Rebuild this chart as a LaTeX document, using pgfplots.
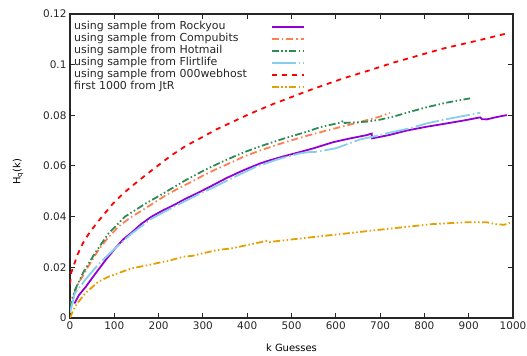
\documentclass[border=0pt]{standalone}
\usepackage{pgfplots}
\pgfplotsset{compat=1.18}
\usepackage{fontspec}
\setmainfont{DejaVu Sans}
\definecolor{cRock}{HTML}{9400D3}
\definecolor{cComp}{HTML}{FF7F50}
\definecolor{cHot}{HTML}{2E8B57}
\definecolor{cFlirt}{HTML}{87CEEB}
\definecolor{cWeb}{HTML}{FF0000}
\definecolor{cJtR}{HTML}{E69F00}
\begin{document}
\begin{tikzpicture}[x=1bp,y=1bp]
\begin{axis}[
  name=ax,
  scale only axis,
  width=443bp, height=304bp,
  xmin=0, xmax=1000, ymin=0, ymax=0.12,
  xtick={0,100,...,1000},
  ytick={0,0.02,0.04,0.06,0.08,0.1,0.12},
  scaled y ticks=false,
  yticklabel style={/pgf/number format/fixed,/pgf/number format/precision=2},
  xticklabel style={/pgf/number format/set thousands separator={}},
  /pgf/number format/assume math mode=true,
  tick align=inside,
  major tick length=5bp,
  minor tick num=0,
  axis line style={line width=1.2bp, black!85},
  every tick/.style={line width=1bp, black!85},
  tick label style={font=\fontsize{10.5}{12}\selectfont, black!85},
  label style={font=\fontsize{10.5}{12}\selectfont, black!85},
  xlabel={k Guesses},
  ylabel={H\textsubscript{q}(k)},
  every axis x label/.style={at={([yshift=-30bp]rel axis cs:0.5,0)}, anchor=center},
  every axis y label/.style={at={([xshift=-52bp,yshift=-6bp]rel axis cs:0,0.5)}, anchor=center, rotate=90},
  legend cell align=left,
  legend plot pos=right,
  legend style={draw=none, fill=none, at={([yshift=-4bp]rel axis cs:0.0,1)}, anchor=north west,
    font=\fontsize{11}{12}\selectfont, text=black!85, column sep=22bp, row sep=0bp,
    nodes={text height=8bp, text depth=2.5bp, inner ysep=0.75bp},
    inner xsep=2bp, inner ysep=3bp},
  legend image code/.code={\draw[#1, line width=1.8bp] (0bp,0bp) -- (32bp,0bp);},
  every axis plot/.append style={line width=1.8bp},
]
\addplot[cRock] coordinates {
(10,0.0057) (20,0.009) (36,0.0124) (50,0.0158) (66,0.0195) (80,0.0228) (102,0.0275) (120,0.031) (141,0.034) (160,0.037) (184,0.040) (210,0.0425) (237,0.0448) (260,0.047) (290,0.0495) (320,0.0522) (354,0.0553) (390,0.0582) (429,0.061) (450,0.0622) (480,0.0637) (519,0.0655) (550,0.067) (594,0.0694) (630,0.0708) (670,0.0722) (681,0.0728) (682,0.0709) (720,0.0722) (760,0.074) (805,0.0755) (850,0.0768) (890,0.078) (926,0.0792) (930,0.0785) (941,0.0784) (960,0.0792) (986,0.0801)
};
\addlegendentry{using sample from Rockyou}
\addplot[cComp, dash pattern=on 7bp off 3bp on 1.5bp off 3bp] coordinates {
(0,0.004) (5,0.008) (19,0.0137) (40,0.020) (64,0.0268) (85,0.0315) (109,0.036) (135,0.0395) (162,0.0424) (190,0.0455) (214,0.0482) (245,0.0512) (275,0.0538) (300,0.0562) (327,0.0585) (369,0.0618) (391,0.0636) (430,0.0662) (482,0.0692) (530,0.0717) (579,0.0740) (620,0.0758) (670,0.0781) (700,0.0795) (722,0.081)
};
\addlegendentry{using sample from Compubits}
\addplot[cHot, dash pattern=on 7bp off 2.5bp on 1.5bp off 2.5bp on 1.5bp off 2.5bp] coordinates {
(0,0.004) (11,0.011) (30,0.018) (56,0.0255) (87,0.0334) (124,0.040) (169,0.045) (214,0.0495) (260,0.0543) (305,0.0585) (350,0.0622) (391,0.0653) (430,0.0678) (482,0.0708) (534,0.0735) (564,0.0753) (612,0.0772) (617,0.078) (620,0.077) (670,0.0775) (700,0.0783) (730,0.0795) (770,0.0815) (805,0.0832) (850,0.085) (903,0.0867)
};
\addlegendentry{using sample from Hotmail}
\addplot[cFlirt, dash pattern=on 24bp off 3bp on 1.5bp off 3bp] coordinates {
(0,0.002) (11,0.0097) (34,0.015) (64,0.0212) (100,0.0272) (139,0.0333) (184,0.0392) (237,0.0441) (290,0.0488) (335,0.0525) (369,0.0555) (420,0.0597) (470,0.0627) (519,0.065) (540,0.0655) (557,0.0656) (600,0.067) (655,0.0705) (690,0.0718) (730,0.0735) (770,0.075) (805,0.0768) (850,0.0785) (890,0.0798) (926,0.081)
};
\addlegendentry{using sample from Flirtlife}
\addplot[cWeb, dash pattern=on 5bp off 5bp] coordinates {
(0,0.0135) (3,0.018) (10,0.0215) (17,0.025) (29,0.0295) (44,0.0337) (62,0.0378) (80,0.0416) (96,0.0450) (119,0.0490) (143,0.0525) (165,0.0556) (184,0.0582) (207,0.0613) (229,0.0642) (260,0.0678) (301,0.0716) (331,0.0745) (384,0.0788) (406,0.0806) (459,0.0845) (542,0.090) (617,0.0946) (673,0.0976) (730,0.1008) (843,0.1064) (920,0.1095) (990,0.1125)
};
\addlegendentry{using sample from 000webhost}
\addplot[cJtR, dash pattern=on 7bp off 2.5bp on 1.5bp off 2.5bp on 1.5bp off 2.5bp] coordinates {
(0,0.0) (11,0.0045) (34,0.0097) (64,0.0143) (87,0.0163) (139,0.0196) (177,0.0209) (229,0.0229) (256,0.0242) (275,0.0245) (331,0.0268) (365,0.0275) (420,0.0295) (444,0.0305) (450,0.0300) (500,0.031) (557,0.0321) (620,0.0333) (707,0.035) (760,0.036) (820,0.0371) (895,0.0378) (940,0.0378) (963,0.037) (980,0.0368) (993,0.0376)
};
\addlegendentry{first 1000 from JtR}
\end{axis}
\pgfresetboundingbox
\path ([shift={(-70bp,-38bp)}]ax.south west) rectangle ([shift={(14bp,14bp)}]ax.north east);
\end{tikzpicture}
\end{document}
